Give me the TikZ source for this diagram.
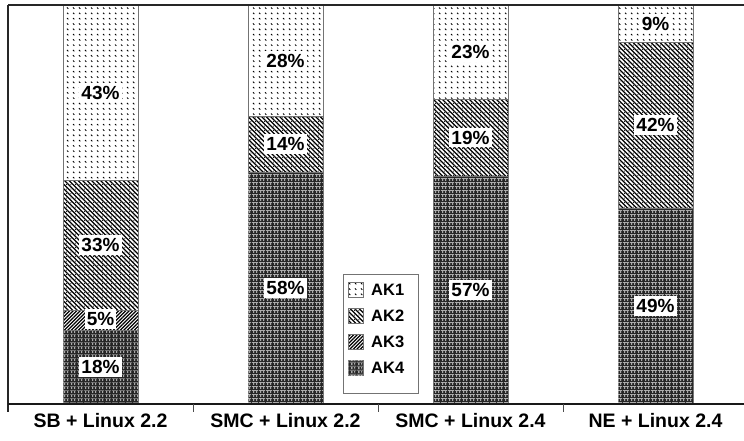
\documentclass[tikz,border=0pt]{standalone}
\usepackage{fontspec}
\setmainfont{Liberation Sans}
\usetikzlibrary{patterns}

% AK1: sparse tiny diagonal marks
\pgfdeclarepatternformonly{akone}{\pgfqpoint{-1pt}{-1pt}}{\pgfqpoint{7pt}{6pt}}{\pgfqpoint{6pt}{5.3pt}}{%
  \pgfsetlinewidth{0.9pt}%
  \pgfpathmoveto{\pgfqpoint{1pt}{3.2pt}}\pgfpathlineto{\pgfqpoint{2.3pt}{1.9pt}}\pgfusepath{stroke}}
% AK2: "\\\\" stripes with dots
\pgfdeclarepatternformonly{aktwo}{\pgfqpoint{-1pt}{-1pt}}{\pgfqpoint{5.5pt}{5.5pt}}{\pgfqpoint{4.5pt}{4.5pt}}{%
  \pgfsetlinewidth{1.2pt}%
  \pgfpathmoveto{\pgfqpoint{0pt}{4.5pt}}\pgfpathlineto{\pgfqpoint{4.5pt}{0pt}}\pgfusepath{stroke}%
  \pgfpathcircle{\pgfqpoint{3.4pt}{3.4pt}}{0.55pt}\pgfusepath{fill}}
% AK3: "////" stripes
\pgfdeclarepatternformonly{akthree}{\pgfqpoint{-1pt}{-1pt}}{\pgfqpoint{4.5pt}{4.5pt}}{\pgfqpoint{3.5pt}{3.5pt}}{%
  \pgfsetlinewidth{1.4pt}%
  \pgfpathmoveto{\pgfqpoint{0pt}{0pt}}\pgfpathlineto{\pgfqpoint{3.5pt}{3.5pt}}\pgfusepath{stroke}}
% AK4: light breaks on dark
\pgfdeclarepatternformonly{akfour}{\pgfqpoint{0pt}{0pt}}{\pgfqpoint{7pt}{4pt}}{\pgfqpoint{7pt}{4pt}}{%
  \pgfsetlinewidth{1pt}%
  \pgfpathmoveto{\pgfqpoint{2pt}{0pt}}\pgfpathlineto{\pgfqpoint{2pt}{2.6pt}}\pgfusepath{stroke}%
  \pgfsetlinewidth{0.8pt}%
  \pgfpathmoveto{\pgfqpoint{5.3pt}{0.3pt}}\pgfpathlineto{\pgfqpoint{5.3pt}{2.2pt}}\pgfusepath{stroke}%
  \pgfsetlinewidth{0.6pt}%
  \pgfpathmoveto{\pgfqpoint{0pt}{3.4pt}}\pgfpathlineto{\pgfqpoint{7pt}{3.4pt}}\pgfusepath{stroke}}

\tikzset{
  seg/.style={draw=black!55, line width=0.8pt},
  ak1/.style={seg, pattern=akone, pattern color=black},
  ak2/.style={seg, pattern=aktwo, pattern color=black},
  ak3/.style={seg, pattern=akthree, pattern color=black},
  ak4/.style={seg, fill=black!85, postaction={pattern=akfour, pattern color=black!5}},
  pct/.style={fill=white, inner xsep=2pt, inner ysep=3pt, font=\bfseries\fontsize{19}{21}\selectfont},
  cat/.style={anchor=base, font=\bfseries\fontsize{19.5}{22}\selectfont},
  leg/.style={anchor=west, inner sep=0pt, font=\bfseries\fontsize{16.5}{18}\selectfont},
  axisline/.style={line width=1.6pt, black!85},
}

\begin{document}
\begin{tikzpicture}[x=1pt, y=-1pt]
\useasboundingbox (0,0) rectangle (744,440);

% bar 1: SB + Linux 2.2
\draw[ak4] (63,330) rectangle (138,404);
\draw[ak3] (63,310) rectangle (138,330);
\draw[ak2] (63,180) rectangle (138,310);
\draw[ak1] (63,5) rectangle (138,180);
% bar 2: SMC + Linux 2.2
\draw[ak4] (248,172) rectangle (323,404);
\draw[ak2] (248,116) rectangle (323,172);
\draw[ak1] (248,5) rectangle (323,116);
% bar 3: SMC + Linux 2.4
\draw[ak4] (433,176) rectangle (508,404);
\draw[ak2] (433,99) rectangle (508,176);
\draw[ak1] (433,5) rectangle (508,99);
% bar 4: NE + Linux 2.4
\draw[ak4] (618,208) rectangle (693,404);
\draw[ak2] (618,42) rectangle (693,208);
\draw[ak1] (618,5) rectangle (693,42);

% percentage labels
\node[pct] (b1a) at (100.5,92.5) {43\%};
\node[pct] (b1b) at (100.5,245) {33\%};
\node[pct] (b1c) at (100.5,319) {5\%};
\node[pct] (b1d) at (100.5,367) {18\%};
\node[pct] (b2a) at (285.5,60.5) {28\%};
\node[pct] (b2b) at (285.5,144) {14\%};
\node[pct] (b2d) at (285.5,288) {58\%};
\node[pct] (b3a) at (470.5,52) {23\%};
\node[pct] (b3b) at (470.5,137.5) {19\%};
\node[pct] (b3d) at (470.5,290) {57\%};
\node[pct] (b4a) at (655.5,23.5) {9\%};
\node[pct] (b4b) at (655.5,125) {42\%};
\node[pct] (b4d) at (655.5,306) {49\%};

% axes
\draw[axisline] (8,5) -- (744,5);
\draw[line width=1.3pt, black!85] (8,5) -- (8,412);
\draw[line width=2pt, black!90] (8,404) -- (744,404);
\foreach \t in {193,378,563} \draw[line width=1pt, black!70] (\t,404) -- (\t,412);

% category labels
\node[cat] (c1) at (100.5,427) {SB + Linux 2.2};
\node[cat] (c2) at (285.5,427) {SMC + Linux 2.2};
\node[cat] (c3) at (470.5,427) {SMC + Linux 2.4};
\node[cat] (c4) at (655.5,427) {NE + Linux 2.4};

% legend
\draw[draw=black!55, line width=0.8pt, fill=white] (343,274) rectangle (418,393);
\draw[ak1] (348,282) rectangle (363,297);
\draw[ak2] (348,308) rectangle (363,323);
\draw[ak3] (348,334) rectangle (363,349);
\draw[ak4] (348,360) rectangle (363,375);
\node[leg] (l1) at (371,289.5) {AK1};
\node[leg] (l2) at (371,315.5) {AK2};
\node[leg] (l3) at (371,341.5) {AK3};
\node[leg] (l4) at (371,367.5) {AK4};
\end{tikzpicture}
\end{document}
